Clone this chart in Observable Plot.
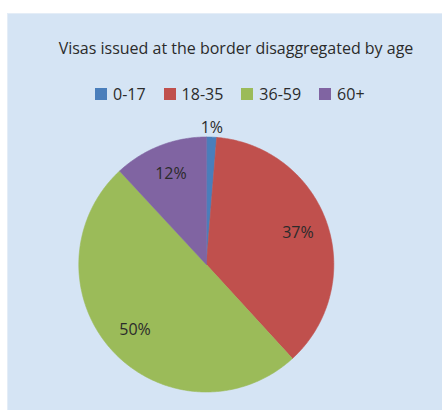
<!DOCTYPE html>
<html>
<head>
<meta charset="utf-8">
<script src="https://cdn.jsdelivr.net/npm/d3@7"></script>
<script src="https://cdn.jsdelivr.net/npm/@observablehq/plot@0.6"></script>
<style>
  html, body { margin: 0; padding: 0; background: #ffffff; }
  body { width: 442px; height: 410px; position: relative; overflow: hidden; font-family: "Open Sans", sans-serif; color: #2b2b2b; }
  #panel { position: absolute; left: 7px; top: 13px; right: 0; bottom: 0; background: #d5e4f4; border-left: 1px solid #e4edf7; border-top: 1px solid #e4edf7; }
  #title { position: absolute; left: 0; width: 472px; top: 37px; text-align: center; font-size: 16px; white-space: nowrap; }
  #legend { position: absolute; left: 95px; top: 83px; display: flex; align-items: center; font-size: 16px; white-space: nowrap; }
  .item { display: flex; align-items: center; margin-right: 18px; }
  .sw { width: 12px; height: 12px; margin-right: 6px; }
  #chart { position: absolute; left: 0; top: 0; }
</style>
</head>
<body>
<div id="panel"></div>
<div id="title"></div>
<div id="legend"></div>
<div id="chart"></div>
<script>
const title = "Visas issued at the border disaggregated by age";
const categories = ["0-17", "18-35", "36-59", "60+"];
const values = [1.3, 36.9, 49.9, 11.9];
const labels = ["1%", "37%", "50%", "12%"];
const colors = ["#4a7ebb", "#c0504d", "#9bbb59", "#8064a2"];

// layout
const W = 442, H = 410;
const cx = 205.8, cy = 264, R = 127.5;

document.getElementById("title").textContent = title;
const legend = document.getElementById("legend");
categories.forEach((c, i) => {
  const it = document.createElement("div");
  it.className = "item";
  const sw = document.createElement("div");
  sw.className = "sw";
  sw.style.background = colors[i];
  const t = document.createElement("span");
  t.textContent = c;
  it.appendChild(sw); it.appendChild(t);
  legend.appendChild(it);
});

const data = categories.map((c, i) => ({cat: c, value: values[i], label: labels[i]}));
const arcs = d3.pie().sort(null).value(d => d.value).startAngle(0).endAngle(2 * Math.PI)(data);

// polygon points for each slice
const pts = [];
arcs.forEach(a => {
  pts.push({cat: a.data.cat, x: cx, y: cy});
  const n = Math.max(2, Math.ceil((a.endAngle - a.startAngle) / (Math.PI / 360)));
  for (let k = 0; k <= n; k++) {
    const t = a.startAngle + (a.endAngle - a.startAngle) * k / n;
    pts.push({cat: a.data.cat, x: cx + R * Math.sin(t), y: cy - R * Math.cos(t)});
  }
});

const labelPts = arcs.map(a => {
  const m = (a.startAngle + a.endAngle) / 2;
  const r = a.data.value < 3 ? R + 9 : R * 0.76;
  return {label: a.data.label, x: cx + r * Math.sin(m), y: cy - r * Math.cos(m)};
});

const plot = Plot.plot({
  width: W,
  height: H,
  margin: 0,
  x: {type: "identity", axis: null},
  y: {type: "identity", axis: null},
  color: {domain: categories, range: colors},
  style: {background: "transparent", fontFamily: "Open Sans, sans-serif", overflow: "visible"},
  marks: [
    Plot.line(pts, {x: "x", y: "y", z: "cat", fill: "cat", stroke: "cat", strokeWidth: 0.6, curve: "linear-closed"}),
    Plot.text(labelPts, {x: "x", y: "y", text: "label", fontSize: 16, fill: "#2b2b2b", textAnchor: "middle"})
  ]
});
document.getElementById("chart").appendChild(plot);
</script>
</body>
</html>
